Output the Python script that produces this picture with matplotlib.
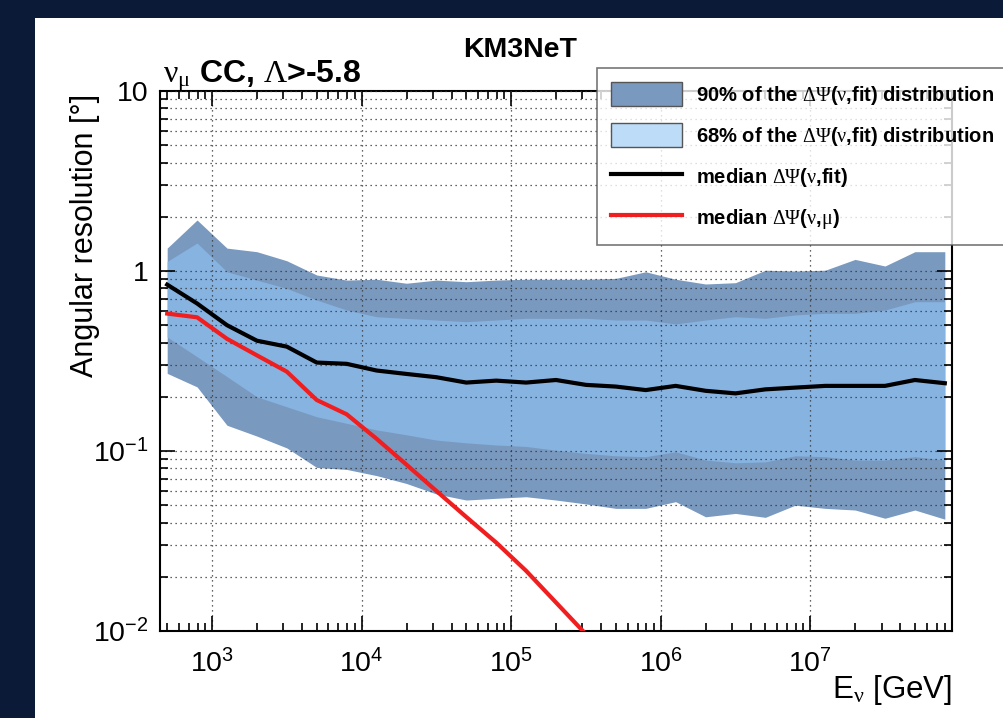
import matplotlib
matplotlib.use('Agg')
import matplotlib.pyplot as plt
from matplotlib.patches import Patch, Rectangle
from matplotlib.lines import Line2D
from matplotlib.ticker import LogLocator, NullFormatter

plt.rcParams['font.family'] = ['Liberation Sans', 'DejaVu Sans']
plt.rcParams['mathtext.fontset'] = 'custom'
plt.rcParams['mathtext.rm'] = 'Liberation Serif'
plt.rcParams['mathtext.it'] = 'Liberation Serif'
plt.rcParams['mathtext.bf'] = 'Liberation Serif:bold'

# bin centres, log10(E/GeV)
log_energy = [2.7, 2.9, 3.1, 3.3, 3.5, 3.7, 3.9, 4.1, 4.3, 4.5, 4.7, 4.9, 5.1, 5.3,
              5.5, 5.7, 5.9, 6.1, 6.3, 6.5, 6.7, 6.9, 7.1, 7.3, 7.5, 7.7, 7.9]

# 90% band
band90_hi = [1.34, 1.92, 1.34, 1.28, 1.14, 0.95, 0.89, 0.90, 0.855, 0.89, 0.872, 0.89, 0.90, 0.90,
             0.90, 0.91, 0.99, 0.90, 0.847, 0.861, 1.01, 1.00, 1.01, 1.16, 1.066, 1.28, 1.28]
band90_lo = [0.27, 0.227, 0.139, 0.121, 0.104, 0.081, 0.079, 0.073, 0.066, 0.0577, 0.0534, 0.0546, 0.0557, 0.0534,
             0.0508, 0.048, 0.048, 0.0523, 0.0431, 0.045, 0.0428, 0.050, 0.048, 0.047, 0.0423, 0.047, 0.0418]
# 68% band
band68_hi = [1.13, 1.43, 0.99, 0.89, 0.80, 0.69, 0.607, 0.557, 0.545, 0.534, 0.523, 0.534, 0.546, 0.545,
             0.546, 0.534, 0.534, 0.508, 0.534, 0.557, 0.546, 0.57, 0.582, 0.582, 0.607, 0.675, 0.675]
band68_lo = [0.43, 0.334, 0.259, 0.20, 0.176, 0.155, 0.1425, 0.131, 0.123, 0.115, 0.111, 0.108, 0.106, 0.101,
             0.097, 0.094, 0.093, 0.099, 0.089, 0.086, 0.087, 0.094, 0.093, 0.089, 0.089, 0.093, 0.089]
# medians
median_fit = [0.84, 0.66, 0.50, 0.41, 0.38, 0.31, 0.305, 0.28, 0.268, 0.257, 0.24, 0.246, 0.24, 0.248,
              0.233, 0.228, 0.218, 0.23, 0.216, 0.209, 0.22, 0.225, 0.23, 0.23, 0.23, 0.248, 0.238]
median_mu = [0.58, 0.553, 0.42, 0.34, 0.276, 0.192, 0.16, 0.117, 0.084, 0.060, 0.043, 0.031, 0.0216, 0.0144,
             0.0096]

energy = [10 ** v for v in log_energy]

dark_col = '#7a99bf'
mid_col = '#87b3e1'
light_leg = '#bddcf7'
red_col = '#f01e1e'

fig = plt.figure(figsize=(10.04, 7.18), dpi=100)
fig.patch.set_facecolor('#0b1b37')
fig.add_artist(Rectangle((35 / 1004, 0), 1, 1 - 18 / 718, transform=fig.transFigure,
                         facecolor='white', edgecolor='none', zorder=0))

ax = fig.add_axes([160 / 1004, 1 - 631 / 718, 792 / 1004, 540 / 718])
ax.set_xscale('log')
ax.set_yscale('log')

ax.fill_between(energy, band90_lo, band90_hi, color=dark_col, lw=0, zorder=1)
ax.fill_between(energy, band68_lo, band68_hi, color=mid_col, lw=0, zorder=1.1)
ax.plot(energy, median_fit, color='black', lw=3, zorder=3)
ax.plot(energy[:len(median_mu)], median_mu, color=red_col, lw=3, zorder=3)

ax.set_xlim(10 ** 2.652, 10 ** 7.948)
ax.set_ylim(0.01, 10)

ax.set_axisbelow(False)
ax.grid(True, which='major', axis='x', ls=(0, (1, 3)), color='#333333', lw=0.9)
ax.grid(True, which='both', axis='y', ls=(0, (1, 3)), color='#333333', lw=0.9)

ax.set_xticks([1e3, 1e4, 1e5, 1e6, 1e7],
              [r'$\mathdefault{10^{%d}}$' % k for k in range(3, 8)])
ax.set_yticks([0.01, 0.1, 1, 10],
              [r'$\mathdefault{10^{-2}}$', r'$\mathdefault{10^{-1}}$', '1', '10'])
ax.xaxis.set_minor_locator(LogLocator(base=10, subs=range(2, 10), numticks=20))
ax.yaxis.set_minor_locator(LogLocator(base=10, subs=range(2, 10), numticks=20))
ax.xaxis.set_minor_formatter(NullFormatter())
ax.yaxis.set_minor_formatter(NullFormatter())
ax.tick_params(which='both', direction='in', top=True, right=True, width=1.2)
ax.tick_params(which='major', length=11, labelsize=20.5)
ax.tick_params(axis='x', which='major', pad=13)
ax.tick_params(axis='y', which='major', pad=8)
ax.tick_params(which='minor', length=6)
for s in ax.spines.values():
    s.set_linewidth(1.5)

fig.text(85 / 1004, 1 - 94 / 718, 'Angular resolution [°]', rotation=90,
         ha='center', va='top', fontsize=22)
fig.text(952 / 1004, 1 - 698 / 718, r'E$_{\nu}$ [GeV]', ha='right', va='baseline', fontsize=22.5)
fig.text(520 / 1004, 1 - 50 / 718, 'KM3NeT', ha='center', va='center', fontsize=20.5,
         fontweight='bold')
fig.text(163 / 1004, 1 - 82 / 718, r'$\nu_{\mu}$ CC, $\Lambda$>-5.8', ha='left', va='baseline',
         fontsize=23, fontweight='bold')

handles = [Patch(facecolor=dark_col, edgecolor='#555555', lw=1),
           Patch(facecolor=light_leg, edgecolor='#555555', lw=1),
           Line2D([], [], color='black', lw=3),
           Line2D([], [], color=red_col, lw=3)]
labels = [r'90% of the $\Delta\Psi$($\nu$,fit) distribution',
          r'68% of the $\Delta\Psi$($\nu$,fit) distribution',
          r'median $\Delta\Psi$($\nu$,fit)',
          r'median $\Delta\Psi$($\nu$,$\mu$)']
leg = fig.legend(handles, labels, loc='upper left', bbox_to_anchor=(597 / 1004, 1 - 68 / 718),
                 bbox_transform=fig.transFigure, frameon=True, fancybox=False,
                 prop={'size': 14.5, 'weight': 'bold'}, handlelength=3.5, handleheight=1.45,
                 labelspacing=0.82, handletextpad=0.7, borderpad=0.7, borderaxespad=0)
leg.get_frame().set_edgecolor('#555555')
leg.get_frame().set_linewidth(1.2)
leg.set_zorder(5)

fig.savefig('out.png', dpi=100, facecolor=fig.get_facecolor())
